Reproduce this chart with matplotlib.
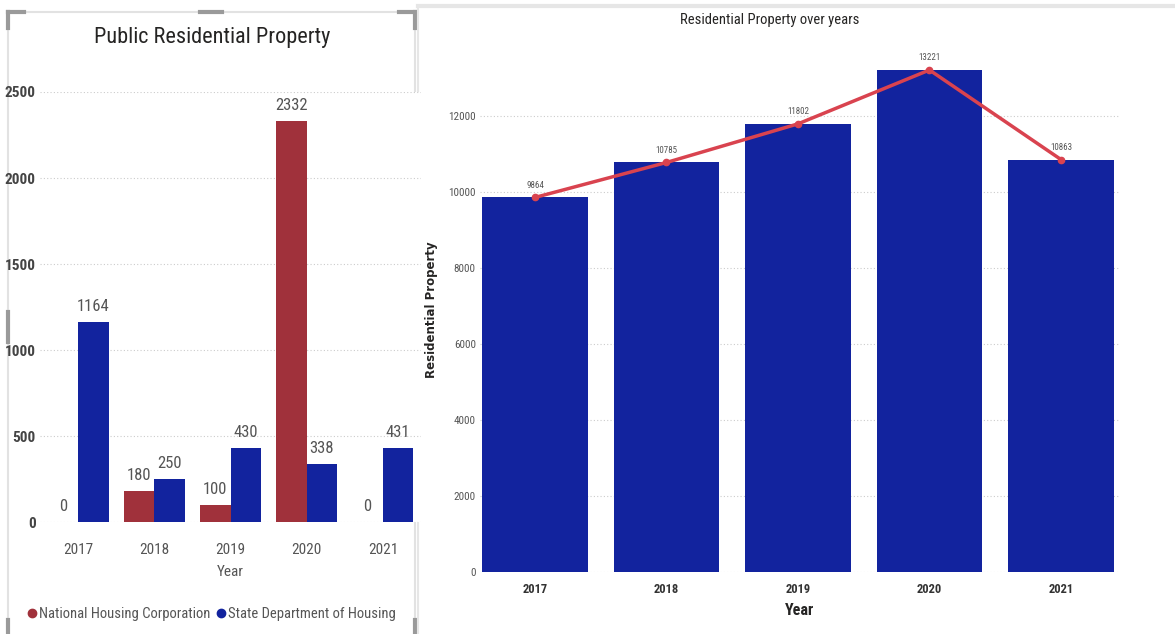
import matplotlib
matplotlib.use('Agg')
import matplotlib.pyplot as plt
import numpy as np
from matplotlib import font_manager
from matplotlib.lines import Line2D

years = ['2017', '2018', '2019', '2020', '2021']
national_housing = [0, 180, 100, 2332, 0]
state_housing = [1164, 250, 430, 338, 431]
total_property = [9864, 10785, 11802, 13221, 10863]

RED = '#A0313B'
BLUE = '#12239E'
LINE_RED = '#D9434F'
W, H = 1175, 634

installed = {f.name for f in font_manager.fontManager.ttflist}
narrow = 'DejaVu Sans'
for cand in ['Roboto Condensed', 'Open Sans Condensed', 'Liberation Sans Narrow', 'Lato']:
    if cand in installed:
        narrow = cand
        break


def px_axes(fig, x0, y0, x1, y1):
    # pixel box (top-left origin) -> figure axes
    return fig.add_axes([x0 / W, 1 - y1 / H, (x1 - x0) / W, (y1 - y0) / H])


fig = plt.figure(figsize=(W / 100, H / 100), dpi=100)
fig.patch.set_facecolor('white')

# panel frames
frame = fig.add_axes([0, 0, 1, 1], zorder=-1)
frame.set_xlim(0, W)
frame.set_ylim(H, 0)
frame.axis('off')
frame.add_line(Line2D([8, 8, 415, 415], [634, 12, 12, 634], color='#e2e2e2', lw=1.5))
for seg in [([8, 8], [12, 28]), ([8, 24], [12, 12]), ([399, 415], [12, 12]), ([415, 415], [12, 28]),
            ([200, 222], [12, 12]), ([8, 8], [312, 342]), ([415, 415], [312, 342]),
            ([8, 8], [620, 634]), ([415, 415], [620, 634])]:
    frame.add_line(Line2D(seg[0], seg[1], color='#9a9a9a', lw=3))
frame.add_line(Line2D([418, 1175], [6, 6], color='#e6e6e6', lw=3))
frame.add_line(Line2D([418, 418], [6, 634], color='#e6e6e6', lw=1.5))

# left: grouped bars
ax1 = px_axes(fig, 40, 92, 421, 522)
x = np.arange(len(years))
w = 0.4
b1 = ax1.bar(x - w / 2, national_housing, w, color=RED, label='National Housing Corporation')
b2 = ax1.bar(x + w / 2, state_housing, w, color=BLUE, label='State Department of Housing')
for bars, vals in [(b1, national_housing), (b2, state_housing)]:
    for b, v in zip(bars, vals):
        ax1.text(b.get_x() + b.get_width() / 2, v + 45, str(v), ha='center', va='bottom',
                 fontsize=12, color='#555555', family=narrow)
ax1.set_xlim(-0.5, 4.5)
ax1.set_ylim(0, 2500)
ax1.set_yticks([0, 500, 1000, 1500, 2000, 2500])
ax1.set_xticks(x)
ax1.set_xticklabels(years)
ax1.grid(axis='y', color='#cccccc', linestyle=(0, (1, 2)), lw=0.8)
ax1.set_axisbelow(True)
for s in ax1.spines.values():
    s.set_visible(False)
ax1.tick_params(length=0)
ax1.tick_params(axis='y', pad=3, labelsize=11, labelcolor='#444444')
ax1.tick_params(axis='x', pad=15, labelsize=11, labelcolor='#555555')
for t in ax1.get_yticklabels():
    t.set_fontweight('bold')
    t.set_family(narrow)
for t in ax1.get_xticklabels():
    t.set_family(narrow)
ax1.set_xlabel('Year', fontsize=11, color='#555555', family=narrow, labelpad=6)
fig.text(212 / W, 1 - 37 / H, 'Public Residential Property', ha='center', va='center',
         fontsize=16, color='#252423', family=narrow)

# legend row
dot = dict(marker='o', linestyle='none', markersize=6)
handles = [Line2D([], [], color=RED, **dot), Line2D([], [], color=BLUE, **dot)]
fig.legend(handles, ['National Housing Corporation', 'State Department of Housing'],
           loc='center', bbox_to_anchor=(212 / W, 1 - 614 / H), ncol=2, frameon=False,
           handlelength=0.6, handletextpad=0.2, columnspacing=0.4,
           prop={'family': narrow, 'size': 10.5}, labelcolor='#555555')

# right: totals as bars plus line
ax2 = px_axes(fig, 480, 48, 1120, 572)
ax2.bar(x, total_property, 0.8, color=BLUE)
ax2.plot(x, total_property, color=LINE_RED, lw=2.5, marker='o', markersize=4.5, zorder=3)
for xi, v in zip(x, total_property):
    ax2.text(xi, v + 200, str(v), ha='center', va='bottom', fontsize=6.5, color='#555555',
             family=narrow)
ax2.set_xlim(-0.418, 4.449)
ax2.set_ylim(0, 13800)
ax2.set_yticks(np.arange(0, 13000, 2000))
ax2.set_xticks(x)
ax2.set_xticklabels(years, fontsize=9, fontweight='bold', color='#333333', family=narrow)
ax2.grid(axis='y', color='#cccccc', linestyle=(0, (1, 2)), lw=0.8)
ax2.set_axisbelow(True)
for s in ax2.spines.values():
    s.set_visible(False)
ax2.tick_params(length=0)
ax2.tick_params(axis='y', labelsize=8, labelcolor='#555555', pad=3)
for t in ax2.get_yticklabels():
    t.set_family(narrow)
ax2.tick_params(axis='x', pad=8)
ax2.set_xlabel('Year', fontsize=11.5, fontweight='bold', color='#252423', labelpad=5,
               family=narrow)
ax2.set_ylabel('Residential Property', fontsize=8.5, fontweight='bold', color='#252423',
               labelpad=7)
fig.text(770 / W, 1 - 20 / H, 'Residential Property over years', ha='center', va='center',
         fontsize=10.5, color='#252423', family=narrow)

fig.savefig('out.png', dpi=100, facecolor='white')
